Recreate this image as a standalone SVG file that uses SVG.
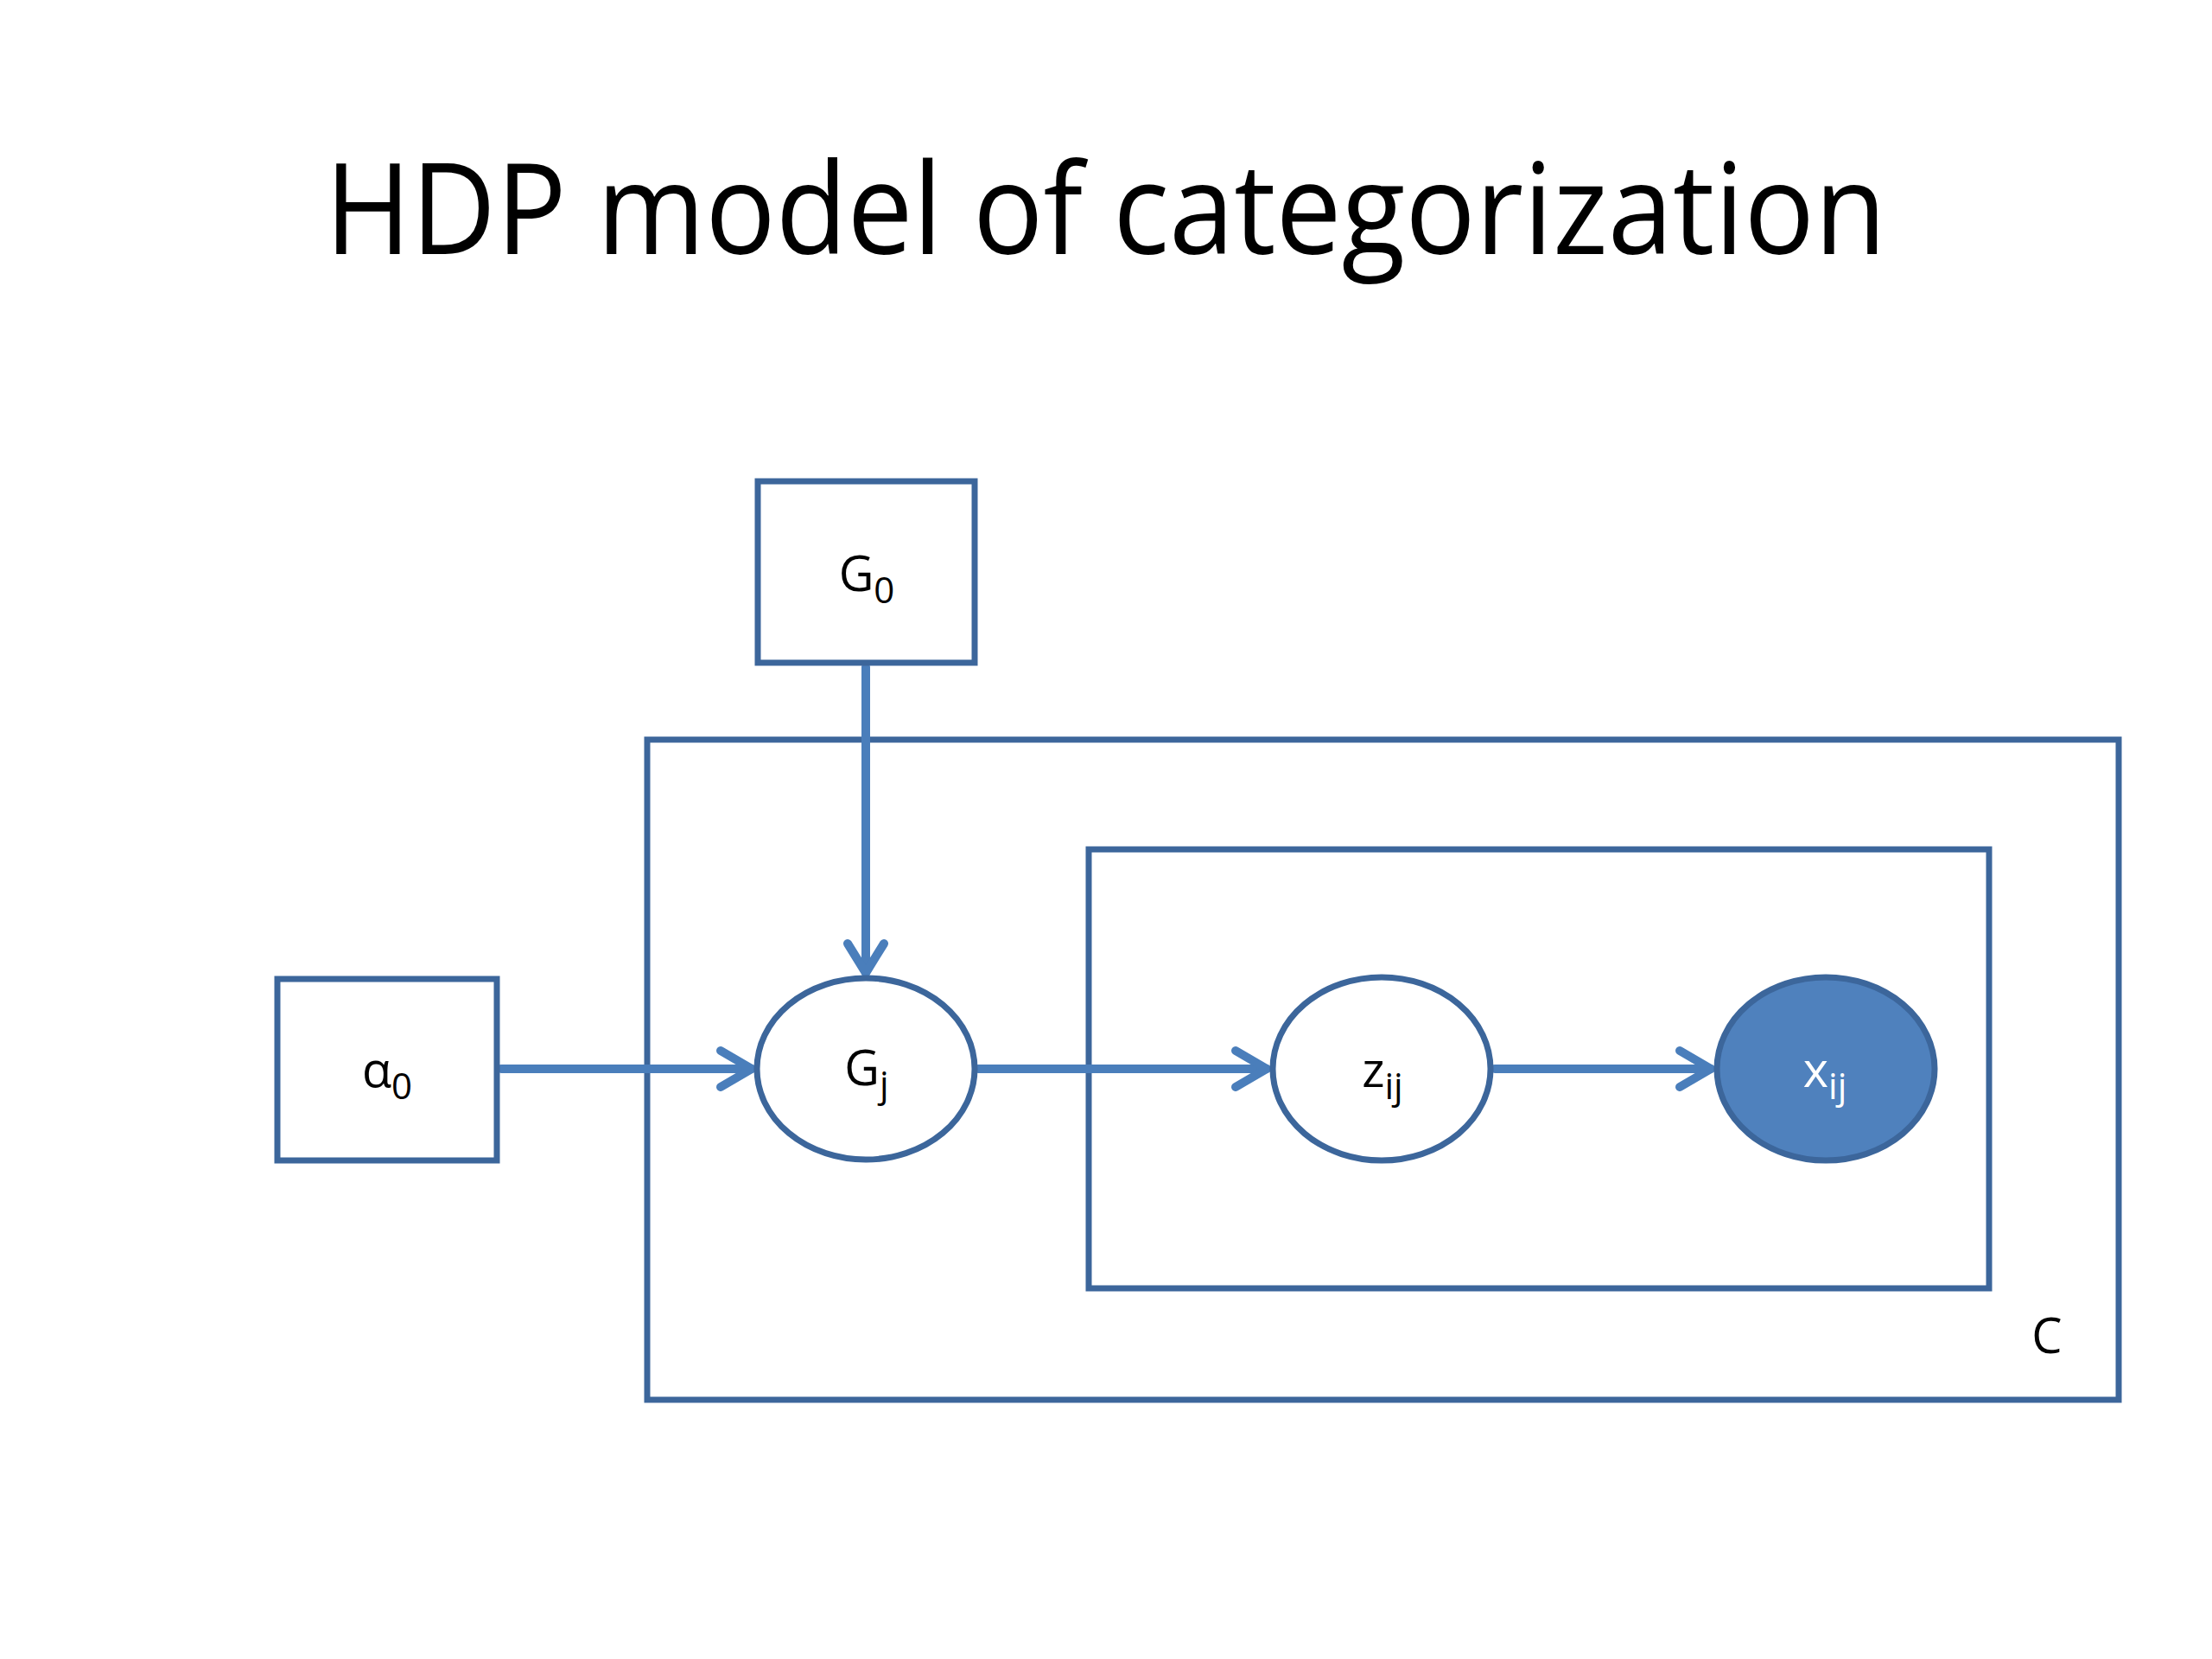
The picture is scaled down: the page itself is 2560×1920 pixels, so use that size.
<svg xmlns="http://www.w3.org/2000/svg" width="2560" height="1920" viewBox="0 0 2560 1920">
<style>
.frame{fill:none;stroke:#3C669B;stroke-width:7}
.node{fill:#FFFFFF;stroke:#3C669B;stroke-width:7}
.obs{fill:#4F81BD;stroke:#3C669B;stroke-width:7}
.edge{fill:none;stroke:#4A7EBB;stroke-width:10;stroke-linecap:round;stroke-linejoin:round}
.lbl{font-family:"Open Sans","Noto Sans","Liberation Sans",sans-serif;font-size:56px;fill:#000;text-anchor:middle}
.sub{font-size:42px}
.title{font-family:"Open Sans","Noto Sans","Liberation Sans",sans-serif;font-size:146px;fill:#000}
</style>
<rect width="2560" height="1920" fill="#FFFFFF"/>
<text class="title" x="376" y="294" textLength="1807" lengthAdjust="spacingAndGlyphs">HDP model of categorization</text>
<g id="plate-C">
<rect class="frame" x="749" y="856" width="1703" height="764"/>
</g>
<g id="plate-inner">
<rect class="frame" x="1260" y="983" width="1042" height="508"/>
</g>
<g id="label-C"><text class="lbl" x="2369" y="1566">C</text></g>
<g id="connectors">
<path class="edge" d="M1002,772 V1126"/>
<path class="edge" d="M981,1092 L1002,1126 L1023,1092"/>
<path class="edge" d="M580,1237 H870"/>
<path class="edge" d="M834,1216 L870,1237 L834,1258"/>
<path class="edge" d="M1132,1237 H1466"/>
<path class="edge" d="M1430,1216 L1466,1237 L1430,1258"/>
<path class="edge" d="M1730,1237 H1980"/>
<path class="edge" d="M1944,1216 L1980,1237 L1944,1258"/>
</g>
<g id="node-G0">
<rect class="node" x="877" y="557" width="251" height="210"/>
<text class="lbl" x="1003" y="684">G<tspan class="sub" dy="14">0</tspan></text>
</g>
<g id="node-alpha0">
<rect class="node" x="321" y="1133" width="254" height="210"/>
<text class="lbl" x="448" y="1258">α<tspan class="sub" dy="14">0</tspan></text>
</g>
<g id="node-Gj">
<ellipse class="node" cx="1002" cy="1237" rx="126" ry="105"/>
<text class="lbl" x="1003" y="1256">G<tspan class="sub" dy="14">j</tspan></text>
</g>
<g id="node-zij">
<ellipse class="node" cx="1599" cy="1237" rx="126" ry="106"/>
<text class="lbl" x="1600" y="1258">z<tspan class="sub" dy="14">ij</tspan></text>
</g>
<g id="node-xij">
<ellipse class="obs" cx="2113" cy="1237" rx="126" ry="106"/>
<text class="lbl" x="2112" y="1258" style="fill:#FFFFFF">x<tspan class="sub" dy="14">ij</tspan></text>
</g>
</svg>
